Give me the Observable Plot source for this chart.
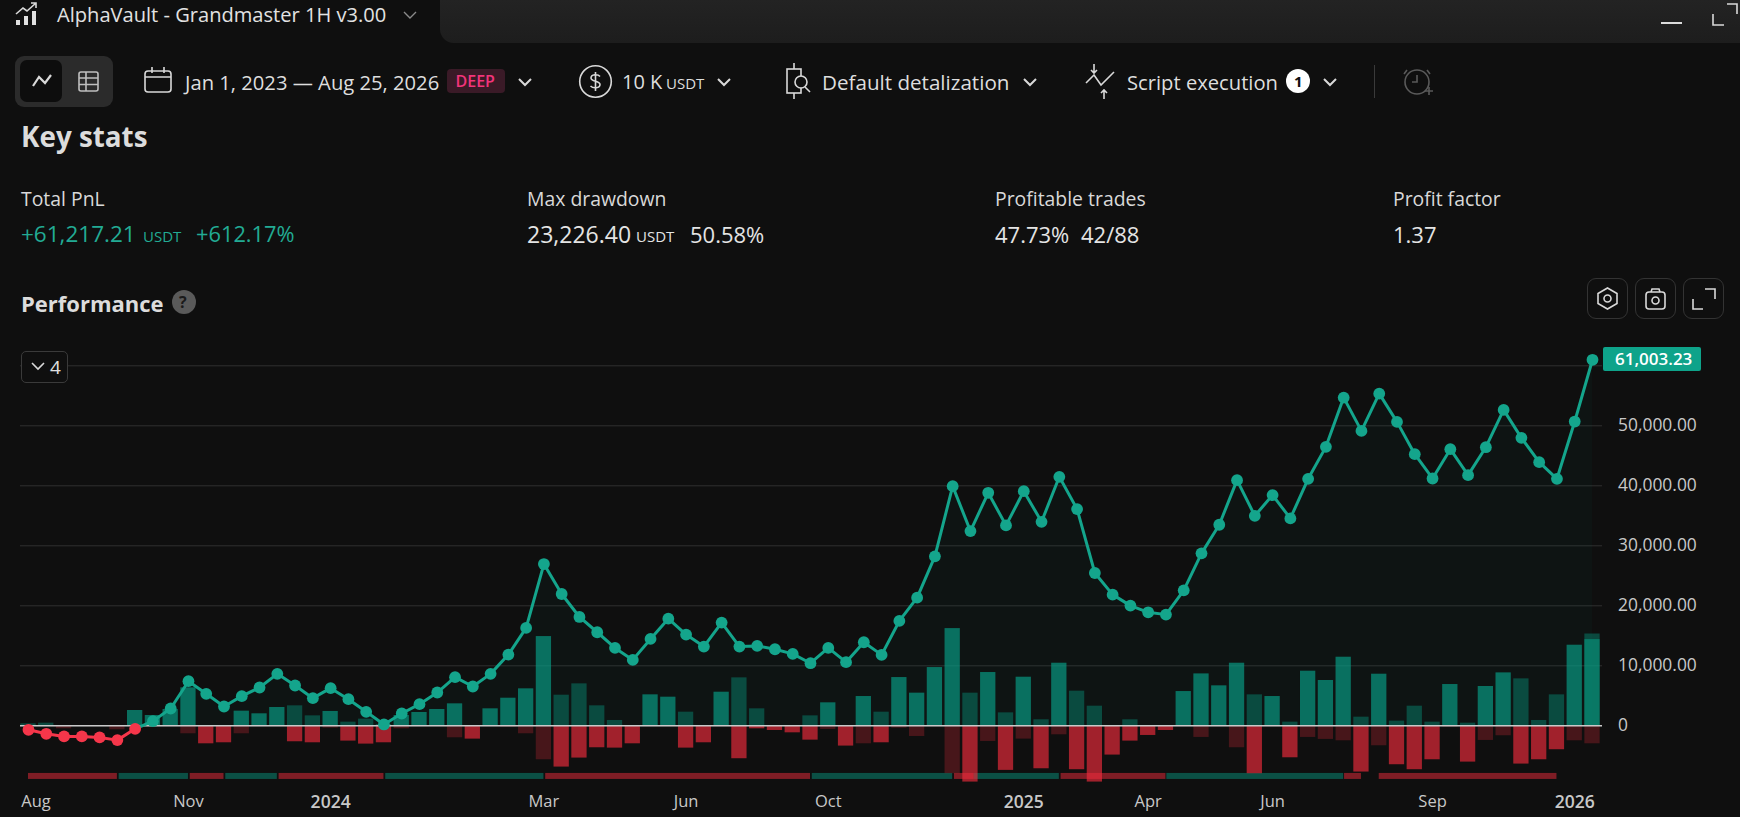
<!DOCTYPE html>
<html><head><meta charset="utf-8">
<script src="https://cdn.jsdelivr.net/npm/d3@7"></script>
<script src="https://cdn.jsdelivr.net/npm/@observablehq/plot@0.6"></script>
<style>
html,body{margin:0;padding:0;background:#0f0f0f;width:1740px;height:817px;overflow:hidden}
body{font-family:"Open Sans",sans-serif;color:#d9d9d9;position:relative}
.t{position:absolute;white-space:nowrap;line-height:1;transform:translateY(-50%)}
.b{position:absolute;box-sizing:border-box}
svg.i{position:absolute;fill:none;stroke:#d9d9d9;stroke-width:1.6;overflow:visible}
#chart{position:absolute;left:0;top:340px}
</style></head><body>
<div id="chart"></div>
<script>
const equity=[-666,-1330,-1775,-1775,-1940,-2385,-500,777,2885,7434,5326,3218,4938,6380,8655,6713,4605,6270,4438,2330,222,2053,3606,5548,8100,6546,8655,11872,16310,26960,21970,18140,15590,12980,10985,14480,17860,15200,13200,17200,13200,13315,12760,11980,10430,12980,10600,13925,11820,17475,21360,28240,39945,32450,38835,33400,39110,34000,41500,36115,25465,21860,20030,18920,18530,22580,28740,33510,40940,35000,38450,34560,41165,46490,54700,49150,55360,50650,45270,41220,46100,41775,46430,52650,47990,43940,41165,50710,61003];
const runUp=[330,440,0,0,0,0,2550,1720,2720,6325,0,0,2440,2000,3050,3330,1660,2390,610,1110,220,1720,2220,2720,3660,0,2830,4600,6160,14870,5100,6990,3330,890,0,5160,4770,2270,0,5600,7990,2830,0,0,1660,3830,0,4880,2270,8040,5440,9710,16200,5440,8880,2160,8100,1000,10430,5770,3270,0,1000,0,0,5710,8650,6660,10430,5160,4880,610,9100,7550,11430,1440,8600,780,3270,610,6880,440,6550,8820,7820,890,5160,13430,15300];
const drawDown=[-110,-110,-500,-60,-60,-670,0,0,0,-1330,-3000,-2830,-1330,-110,-110,-2660,-2830,-390,-2550,-3050,-2830,-500,-60,-60,-2000,-2220,-60,-220,-1330,-5660,-6880,-5380,-3660,-3720,-3000,-60,-110,-3720,-2830,-60,-5490,-500,-780,-1170,-2390,-610,-3380,-3000,-2830,-390,-1780,-60,-7990,-9380,-2610,-7430,-2220,-7160,-1500,-7320,-9380,-4880,-2550,-1610,-780,-60,-1940,-60,-3660,-7990,-60,-5330,-1940,-2270,-2500,-7710,-3330,-6490,-7320,-5660,-200,-6050,-2440,-1660,-6380,-5660,-3990,-2500,-3000];
const wins=[0,0,1,1,1,1,1,1,1,1,0,0,1,1,1,0,0,1,0,0,0,1,1,1,1,0,1,1,1,1,0,0,0,0,0,1,1,0,0,1,0,0,0,0,0,1,0,1,0,1,1,1,1,0,1,0,1,0,1,0,0,0,0,0,0,1,1,1,1,0,1,0,1,1,1,0,1,0,0,0,1,0,1,1,0,0,0,1,1];
const openTradeIndex=88, openTradeProfit=14370;
const stripStart=[0,5.1,9.1,11.1,14.1,20.1,29.1,44.1,52.1,53.2,58.1,64.05,74.05,76];
const stripEnd=[5,9,11,14,20,29,44,52,53.2,58,64,74,75,86];
const stripWin=[0,1,0,1,0,1,0,1,0,1,0,1,0,0];
const stripTop=-7940, stripBottom=-8940;
const monthIdx=[0.42,9,29,37,45,63,70,79], monthLabels=["Aug","Nov","Mar","Jun","Oct","Apr","Jun","Sep"];
const yearIdx=[17,56,87], yearLabels=["2024","2025","2026"];
const gridValues=[0,10000,20000,30000,40000,50000,60000];
const axisValues=[0,10000,20000,30000,40000,50000];
const lastLabel="61,003.23";

const GREEN="#089981",RED="#ef2b3c",LINE="#14a58c";
const idx=equity.map((_,i)=>i), hw=0.43;
const bright=idx.filter(i=>wins[i]);
const dim=idx.filter(i=>!wins[i]);
const bar=(ids,val,fill,op)=>Plot.rectY(ids,{x1:i=>i-hw,x2:i=>i+hw,y1:0,y2:val,fill,fillOpacity:op});
const strips=stripStart.map((s,k)=>({s,e:stripEnd[k],w:stripWin[k]}));
const fmt=d=>d===0?"0":d3.format(",.2f")(d);

const plot=Plot.plot({
  width:1740,height:477,marginLeft:20,marginRight:138,marginTop:0,marginBottom:24,
  style:{background:"transparent",fontFamily:'"Open Sans",sans-serif',overflow:"visible"},
  x:{domain:[0,88],range:[28,1592]},
  y:{domain:[0,60000],range:[385.3,25.3]},
  marks:[
    Plot.gridY(gridValues,{stroke:"#303030",strokeOpacity:1,strokeWidth:1}),
    Plot.rect(strips.filter(d=>d.w),{x1:"s",x2:"e",y1:stripTop,y2:stripBottom,fill:GREEN,fillOpacity:.48}),
    Plot.rect(strips.filter(d=>!d.w),{x1:"s",x2:"e",y1:stripTop,y2:stripBottom,fill:RED,fillOpacity:.5}),
    bar(dim,i=>runUp[i],GREEN,.42),
    bar(bright.filter(i=>i!==openTradeIndex),i=>runUp[i],GREEN,.7),
    bar([openTradeIndex],i=>runUp[i],GREEN,.42),
    bar([openTradeIndex],()=>openTradeProfit,GREEN,.6),
    bar(bright,i=>drawDown[i],RED,.25),
    bar(dim,i=>drawDown[i],RED,.65),
    Plot.areaY(idx.slice(6),{x:i=>i,y1:0,y2:i=>Math.max(equity[i],0),fill:GREEN,fillOpacity:.04}),
    Plot.ruleY([0],{stroke:"#c9c9c9",strokeWidth:1.6}),
    Plot.line(idx.slice(0,7),{x:i=>i,y:i=>equity[i],stroke:"#f5364a",strokeWidth:3}),
    Plot.line(idx.slice(6),{x:i=>i,y:i=>equity[i],stroke:LINE,strokeWidth:3}),
    Plot.dot(idx.slice(0,7),{x:i=>i,y:i=>equity[i],r:5.9,fill:"#f5364a"}),
    Plot.dot(idx.slice(7),{x:i=>i,y:i=>equity[i],r:5.9,fill:LINE}),
    Plot.axisY({anchor:"right",ticks:axisValues,tickFormat:fmt,tickSize:0,tickPadding:15.6,fontSize:17.4,color:"#c8c8c8",label:null}),
    Plot.axisX({ticks:monthIdx,tickFormat:i=>monthLabels[monthIdx.indexOf(i)],tickSize:0,tickPadding:2,fontSize:16.5,color:"#c8c8c8",label:null}),
    Plot.axisX({ticks:yearIdx,tickFormat:i=>yearLabels[yearIdx.indexOf(i)],tickSize:0,tickPadding:2,fontSize:17.5,fontWeight:600,color:"#c8c8c8",label:null})
  ]
});
document.getElementById("chart").appendChild(plot);

/* page furniture around the chart */
const add=h=>document.body.insertAdjacentHTML("beforeend",h);
const T=(x,y,s,txt,o="")=>add(`<div class="t" style="left:${x}px;top:${y}px;font-size:${s}px;${o}">${txt}</div>`);
const B=(x,y,w,h,o)=>add(`<div class="b" style="left:${x}px;top:${y}px;width:${w}px;height:${h}px;${o}"></div>`);
const S=(x,y,w,h,inner,o="")=>add(`<svg class="i" style="left:${x}px;top:${y}px;${o}" width="${w}" height="${h}" viewBox="0 0 ${w} ${h}">${inner}</svg>`);
const chev=(x,y,c="#d9d9d9",w=2)=>S(x-8,y-5,16,10,`<path d="M2 2 L8 8 L14 2" stroke="${c}" stroke-width="${w}"/>`);

B(440,0,1300,43,"background:linear-gradient(#232323,#1d1d1d);border-bottom-left-radius:14px");
S(15,2,24,24,`<path d="M1 23v-5h4v5zM9 23v-9h4v9zM17 23V9h4v14z" fill="#e0e0e0" stroke="none"/><path d="M1 12 L8 6 L12 9 L21 1 M16 1h5v5" />`);
T(57,15,20.1,"AlphaVault - Grandmaster 1H v3.00","color:#e2e2e2");
chev(410,15,"#8a8a8a",1.4);
B(1661,22,21,2,"background:#dcdcdc");
S(1712,3,26,22,`<path d="M1 11v11h11M15 1h10v10" />`);

B(15,56,98,51,"background:#2b2b2b;border-radius:9px");
B(20,60,42,42,"background:#0d0d0d;border-radius:7px");
S(32,74,20,14,`<path d="M1 12 L7 3 L13 9 L19 1" stroke-width="2.2"/>`);
S(78,71,21,21,`<rect x="1" y="1" width="19" height="19" rx="2"/><path d="M1 7h19M1 13.5h19M8 1v19"/>`,"opacity:.85");
S(144,66,28,27,`<rect x="1" y="5" width="26" height="21" rx="3"/><path d="M1 11h26M8 1v6M20 1v6"/>`);
T(185,82,20.2,"Jan 1, 2023 — Aug 25, 2026","color:#dedede");
B(447,69,58,24,"background:#3a1a27;border-radius:4px");
T(455.5,81,16,"DEEP","color:#f2347a;font-weight:600");
chev(525,82);
S(579,65,33,33,`<circle cx="16.5" cy="16.5" r="15.8"/><path d="M21 11.5c-2-2.5-9-2.5-9 1.5s9 2.5 9 6.5-7 4-9.5 1.5M16.5 7v19"/>`);
T(622,82,20,"10 K","color:#dedede");
T(666,83,15,"USDT","color:#dedede");
chev(724,82);
S(785,62,28,38,`<rect x="2" y="7" width="14" height="24"/><path d="M9 1v6M9 31v6" /><circle cx="16" cy="20" r="6" style="fill:#0f0f0f"/><path d="M20 25l5 5"/>`);
T(822,82,20.6,"Default detalization","color:#dedede");
chev(1030,82);
S(1085,63,30,36,`<path d="M1 20 L9 12 L16 22 L29 9M9 1v9M6 7l3 3 3-3M19 36v-9M16 30l3-3 3 3" />`);
T(1127,82,20.2,"Script execution","color:#dedede");
B(1286,69,24,24,"background:#fff;border-radius:50%");
T(1294,81,15,"1","color:#0f0f0f;font-weight:700");
chev(1330,82);
B(1374,65,1,33,"background:#3a3a3a");
S(1403,66,30,32,`<circle cx="14" cy="16" r="12" stroke="#5a5a5a"/><path d="M14 9v7h-5M4 4 L1 8M24 4 L27 8M22 25h8M26 21v8" stroke="#5a5a5a"/>`);

T(21,137,27.8,"Key stats","font-weight:700;color:#dcdcdc");
const lab="color:#d9d9d9", val="color:#e4e4e4", gr="color:#22ab94";
T(21,199,19.4,"Total PnL",lab);
T(21,234,22.5,"+61,217.21",gr); T(143,236,15,"USDT",gr); T(196,234,21.8,"+612.17%",gr);
T(527,199,19.4,"Max drawdown",lab);
T(527,234,23,"23,226.40",val); T(636,236,15,"USDT",val); T(690,234,22,"50.58%",val);
T(995,199,19.4,"Profitable trades",lab);
T(995,234,22,"47.73%",val); T(1081,234,22,"42/88",val);
T(1393,199,19.4,"Profit factor",lab);
T(1393,234,22,"1.37",val);

T(21,303,22,"Performance","font-weight:700;color:#dcdcdc");
B(172,290,24,24,"background:#5a5a5a;border-radius:50%");
T(179,302,16,"?","color:#1a1a1a;font-weight:700");
for(const x of [1587,1635,1683]) B(x,278,41,41,"border:1px solid #333;border-radius:9px");
S(1596,287,23,23,`<path d="M11.5 1 L21 6.5V16.5L11.5 22 L2 16.5V6.5Z"/><circle cx="11.5" cy="11.5" r="3.5"/>`);
S(1645,287,21,23,`<rect x="1" y="5" width="19" height="17" rx="3"/><circle cx="10.5" cy="13.5" r="3.5"/><path d="M6 5l1-3h7l1 3"/>`);
S(1692,288,24,22,`<path d="M1 11v10h10M13 1h10v10"/>`);

B(21,351,47,32,"background:#0f0f0f;border:1px solid #3a3a3a;border-radius:5px");
chev(38,366,"#d9d9d9",1.6);
T(50,367,19,"4","color:#e0e0e0");
B(1603,347,98,24,"background:#0ea38a;border-radius:2px");
T(1615,358,17,lastLabel,"color:#fff;font-weight:600");
</script>
</body></html>
